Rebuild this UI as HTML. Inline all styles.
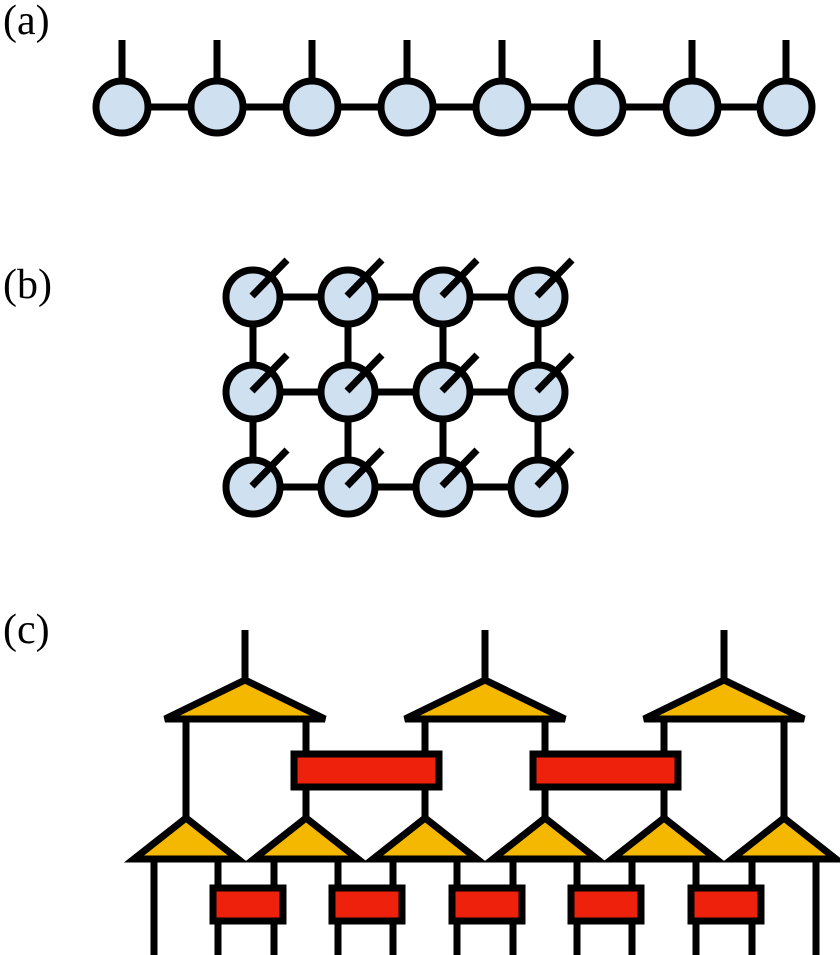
<!DOCTYPE html>
<html><head><style>body{margin:0;background:#fff}svg{display:block}</style></head><body>
<svg width="840" height="955" viewBox="0 0 840 955" xmlns="http://www.w3.org/2000/svg">
<g font-family="Liberation Serif, serif" font-size="42" fill="#000">
<text x="3" y="34">(a)</text>
<text x="3" y="298">(b)</text>
<text x="3" y="643">(c)</text>
</g>
<g stroke="#000" stroke-width="7" fill="#cfe0f1">
<line x1="122" y1="107" x2="786" y2="107"/>
<line x1="122" y1="40" x2="122" y2="107"/><line x1="217" y1="40" x2="217" y2="107"/><line x1="312" y1="40" x2="312" y2="107"/><line x1="407" y1="40" x2="407" y2="107"/><line x1="502" y1="40" x2="502" y2="107"/><line x1="597" y1="40" x2="597" y2="107"/><line x1="692" y1="40" x2="692" y2="107"/><line x1="786" y1="40" x2="786" y2="107"/>
<circle cx="122" cy="107" r="26"/><circle cx="217" cy="107" r="26"/><circle cx="312" cy="107" r="26"/><circle cx="407" cy="107" r="26"/><circle cx="502" cy="107" r="26"/><circle cx="597" cy="107" r="26"/><circle cx="692" cy="107" r="26"/><circle cx="786" cy="107" r="26"/>
<path d="M253 297H538M253 392H538M253 487H538M253 297V487M348 297V487M443 297V487M538 297V487" fill="none"/>
<circle cx="253" cy="297" r="27"/><circle cx="348" cy="297" r="27"/><circle cx="443" cy="297" r="27"/><circle cx="538" cy="297" r="27"/>
<circle cx="253" cy="392" r="27"/><circle cx="348" cy="392" r="27"/><circle cx="443" cy="392" r="27"/><circle cx="538" cy="392" r="27"/>
<circle cx="253" cy="487" r="27"/><circle cx="348" cy="487" r="27"/><circle cx="443" cy="487" r="27"/><circle cx="538" cy="487" r="27"/>
<path d="M252 296l35-36M347 296l35-36M442 296l35-36M537 296l35-36M252 391l35-36M347 391l35-36M442 391l35-36M537 391l35-36M252 486l35-36M347 486l35-36M442 486l35-36M537 486l35-36" fill="none"/>
<path d="M245 630V680M485 630V680M724 630V680M186 716V820M306 716V820M425 716V820M545 716V820M664 716V820M784 716V820
M154 856V955M218 856V955M274 856V955M338 856V955M393 856V955M457 856V955M513 856V955M577 856V955M632 856V955M696 856V955M752 856V955M816 856V955" fill="none"/>
<g fill="#f5b800">
<polygon points="245,680 165,719 325,719"/><polygon points="485,680 405,719 565,719"/><polygon points="724,680 644,719 804,719"/>
<polygon points="186,818 134,859 238,859"/><polygon points="306,818 254,859 358,859"/><polygon points="425,818 373,859 477,859"/><polygon points="545,818 493,859 597,859"/><polygon points="664,818 612,859 716,859"/><polygon points="784,818 732,859 836,859"/>
</g>
<g fill="#ee220c">
<rect x="294" y="754" width="145" height="33"/><rect x="533" y="754" width="145" height="33"/>
<rect x="213" y="888" width="70" height="33"/><rect x="332" y="888" width="70" height="33"/><rect x="452" y="888" width="70" height="33"/><rect x="571" y="888" width="70" height="33"/><rect x="691" y="888" width="70" height="33"/>
</g>
</g>
</svg>
</body></html>
